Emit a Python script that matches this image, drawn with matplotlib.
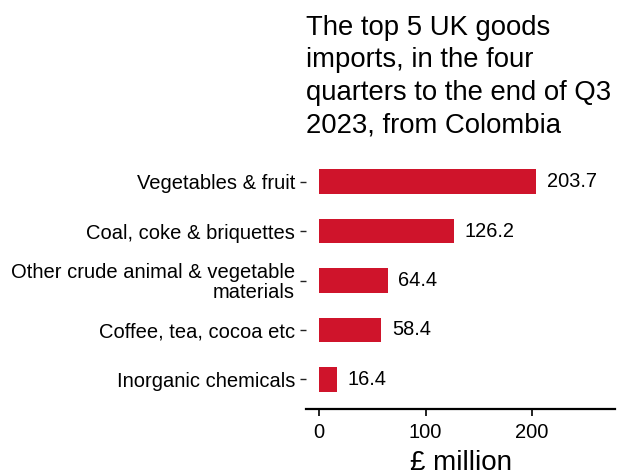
import matplotlib.pyplot as plt

plt.rcParams['font.family'] = ['Liberation Sans', 'DejaVu Sans']

categories = ['Vegetables & fruit', 'Coal, coke & briquettes',
              'Other crude animal & vegetable\nmaterials',
              'Coffee, tea, cocoa etc', 'Inorganic chemicals']
values = [203.7, 126.2, 64.4, 58.4, 16.4]
xticks = [0, 100, 200]

fig = plt.figure(figsize=(6.34, 4.72), dpi=100)
ax = fig.add_axes([306 / 634, 1 - 409 / 472, 309 / 634, 257 / 472])

ypos = list(range(len(categories)))[::-1]
ax.barh(ypos, values, height=0.5, color='#CF142B')
for y, v in zip(ypos, values):
    ax.text(v + 10, y, f'{v:.1f}', va='center', ha='left', fontsize=14.4)

ax.set_yticks(ypos)
ax.set_yticklabels(categories, fontsize=14.5, linespacing=1.05)
ax.set_xticks(xticks)
ax.set_xticklabels([str(t) for t in xticks], fontsize=14.5)
ax.set_xlim(-12.5, 278)
ax.set_ylim(-0.6, len(categories) - 0.4)

for s in ['top', 'right', 'left']:
    ax.spines[s].set_visible(False)
ax.spines['bottom'].set_linewidth(1.6)
ax.tick_params(axis='x', length=5, width=1.4, colors='#222222', pad=5)
ax.tick_params(axis='y', length=4, width=1.0, colors='#222222', pad=4)
for lbl in ax.get_xticklabels() + ax.get_yticklabels():
    lbl.set_color('black')

ax.set_xlabel('£ million', fontsize=20, labelpad=6)

fig.text(306 / 634, 1 - 15 / 472,
         'The top 5 UK goods\nimports, in the four\nquarters to the end of Q3\n2023, from Colombia',
         ha='left', va='top', fontsize=19.8, linespacing=1.32)

fig.savefig('out.png', dpi=100)
